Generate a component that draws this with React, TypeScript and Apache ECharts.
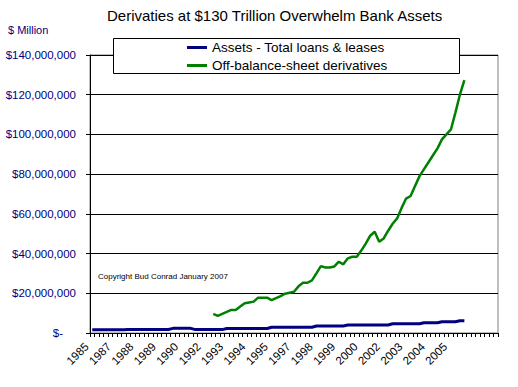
import React, { useEffect, useRef } from "react";
import * as echarts from "echarts";

// Quarterly categories (first entry is 1985 Q4), labels are the year
const QUARTER_YEARS: string[] = [
  "1985",
  "1986", "1986", "1986", "1986",
  "1987", "1987", "1987", "1987",
  "1988", "1988", "1988", "1988",
  "1989", "1989", "1989", "1989",
  "1990", "1990", "1990", "1990",
  "1991", "1991", "1991", "1991",
  "1992", "1992", "1992", "1992",
  "1993", "1993", "1993", "1993",
  "1994", "1994", "1994", "1994",
  "1995", "1995", "1995", "1995",
  "1996", "1996", "1996", "1996",
  "1997", "1997", "1997", "1997",
  "1998", "1998", "1998", "1998",
  "1999", "1999", "1999", "1999",
  "2000", "2000", "2000", "2000",
  "2001", "2001", "2001", "2001",
  "2002", "2002", "2002", "2002",
  "2003", "2003", "2003", "2003",
  "2004", "2004", "2004", "2004",
  "2005", "2005", "2005", "2005",
  "2006", "2006", "2006", "2006",
  "", "", "", "", "", "",
];

// $ trillion (= millions of $ Million)
const ASSETS: (number | null)[] = [
  1.6, 1.6, 1.6, 1.6, 1.65, 1.65, 1.65, 1.65, 1.7, 1.7, 1.7, 1.7, 1.75, 1.75, 1.75, 1.75, 1.8, 1.8,
  2.35, 2.35, 2.35, 2.35, 2.35,
  1.7, 1.7, 1.7, 1.7, 1.7, 1.7, 1.7,
  2.3, 2.3, 2.3, 2.3, 2.3, 2.3, 2.3, 2.3, 2.3, 2.3,
  2.9, 2.9, 2.9, 2.9, 2.9, 2.9, 2.9, 2.9, 2.9, 2.9,
  3.5, 3.5, 3.5, 3.5, 3.5, 3.5, 3.5,
  4.0, 4.0, 4.0, 4.0, 4.0, 4.0, 4.0, 4.0, 4.0, 4.0,
  4.65, 4.65, 4.65, 4.65, 4.65, 4.65, 4.65,
  5.15, 5.15, 5.15, 5.15,
  5.65, 5.65, 5.65, 5.65,
  6.2, 6.2,
];

const DERIVATIVES_START = 27;
const DERIVATIVES: number[] = [
  9.6, 8.6, 9.6, 10.6, 11.6, 11.6, 13.3, 15.0, 15.4, 15.8,
  17.8, 17.8, 17.8, 16.6, 17.6, 18.6, 19.8, 20.3, 20.8, 23.5,
  25.3, 25.3, 26.5, 30.0, 33.7, 33.0, 33.0, 33.5, 35.9, 34.6,
  37.6, 38.4, 38.4, 41.5, 45.0, 49.0, 51.0, 46.0, 47.6, 51.5,
  55.0, 57.7, 63.0, 67.7, 69.0, 74.0, 79.0, 82.5, 86.0, 89.5,
  93.0, 97.5, 100.0, 102.5, 111.0, 120.0, 127.4,
];

const SERIES_NAMES = ["Assets - Total loans & leases", "Off-balance-sheet derivatives"];
const TITLE = "Derivaties at $130 Trillion Overwhelm Bank Assets";
const UNIT_LABEL = "$ Million";
const COPYRIGHT = "Copyright Bud Conrad January 2007";

const FONT = "'Liberation Sans', Arial, sans-serif";

export default function App() {
  const ref = useRef<HTMLDivElement>(null);

  useEffect(() => {
    document.body.style.margin = "0";
    if (!ref.current) return;
    const chart = echarts.init(ref.current, null, { renderer: "svg" });

    const assets = QUARTER_YEARS.map((_, i) =>
      i < ASSETS.length && ASSETS[i] != null ? (ASSETS[i] as number) * 1e6 : null
    );
    const derivs = QUARTER_YEARS.map((_, i) => {
      const k = i - DERIVATIVES_START;
      return k >= 0 && k < DERIVATIVES.length ? DERIVATIVES[k] * 1e6 : null;
    });

    chart.setOption({
      animation: false,
      backgroundColor: "#ffffff",
      textStyle: { fontFamily: FONT },
      grid: {
        left: 90,
        right: 20,
        top: 55,
        bottom: 54,
        show: true,
        borderColor: "#808080",
        borderWidth: 1,
        backgroundColor: "transparent",
      },
      xAxis: {
        type: "category",
        data: QUARTER_YEARS,
        boundaryGap: true,
        axisLine: { show: true, lineStyle: { color: "#000", width: 1 } },
        axisTick: { show: true, interval: 0, length: 4, lineStyle: { color: "#000" } },
        axisLabel: {
          interval: 4,
          rotate: 45,
          margin: 6,
          color: "#000",
          fontSize: 11,
          fontFamily: FONT,
          formatter: (v: string) => (v ? "{a|" + v + "}" : ""),
          rich: {
            a: { color: "#000", fontSize: 11.5, fontFamily: FONT, padding: [0, 8, 0, 0] },
          },
        },
        splitLine: { show: false },
      },
      yAxis: {
        type: "value",
        min: 0,
        max: 140000000,
        interval: 20000000,
        axisLine: { show: true, lineStyle: { color: "#000", width: 1 } },
        axisTick: { show: true, length: 4, lineStyle: { color: "#000" } },
        axisLabel: {
          margin: 14,
          color: "#000080",
          fontSize: 11.5,
          fontFamily: FONT,
          formatter: (v: number) =>
            v === 0 ? "{z|$-}" : "$" + v.toLocaleString("en-US"),
          rich: {
            z: { color: "#000080", fontSize: 11.5, fontFamily: FONT, padding: [0, 13, 0, 0] },
          },
        },
        splitLine: { show: true, lineStyle: { color: "#000", width: 1 } },
      },
      legend: {
        data: SERIES_NAMES,
        orient: "vertical",
        left: 187,
        top: 40,
        z: 10,
        icon: "rect",
        itemWidth: 20,
        itemHeight: 3,
        itemGap: 3,
        padding: 0,
        textStyle: { color: "#000", fontSize: 13.5, fontFamily: FONT, lineHeight: 15 },
      },
      graphic: [
        {
          type: "rect",
          z: 5,
          shape: { x: 113.5, y: 38.5, width: 346, height: 35 },
          style: { fill: "#fff", stroke: "#000", lineWidth: 1 },
        },
        {
          type: "text",
          left: 107,
          top: 8,
          style: { text: TITLE, fill: "#000", font: `15px ${FONT}` },
        },
        {
          type: "text",
          left: 8,
          top: 24,
          style: { text: UNIT_LABEL, fill: "#000080", font: `11px ${FONT}` },
        },
        {
          type: "text",
          left: 98,
          top: 272,
          z: 3,
          style: { text: COPYRIGHT, fill: "#000", font: `8px ${FONT}` },
        },
      ],
      series: [
        {
          name: SERIES_NAMES[0],
          type: "line",
          data: assets,
          showSymbol: false,
          symbol: "none",
          lineStyle: { color: "#000080", width: 3 },
          itemStyle: { color: "#000080" },
          z: 2,
        },
        {
          name: SERIES_NAMES[1],
          type: "line",
          data: derivs,
          showSymbol: false,
          symbol: "none",
          lineStyle: { color: "#008000", width: 2.5 },
          itemStyle: { color: "#008000" },
          z: 2,
        },
      ],
    });

    return () => chart.dispose();
  }, []);

  return <div ref={ref} style={{ width: 518, height: 387 }} />;
}
